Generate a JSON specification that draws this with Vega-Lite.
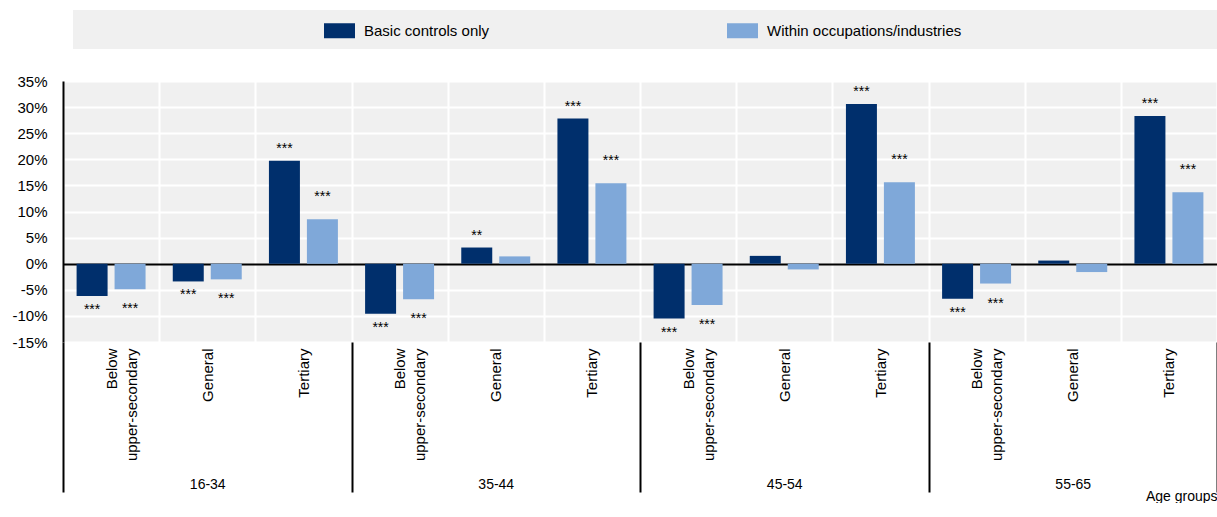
{
  "$schema": "https://vega.github.io/schema/vega-lite/v6.json",
  "padding": {"left": 0, "top": 10, "right": 0, "bottom": 0},
  "spacing": 25,
  "config": {
    "font": "Liberation Sans, Arial, sans-serif",
    "view": {"stroke": null, "fill": "#f0f0f0"},
    "axis": {"labelColor": "#000000", "titleColor": "#000000"}
  },
  "vconcat": [
    {
      "width": 1154,
      "height": 39,
      "view": {"fill": null, "stroke": null},
      "data": {"values": [{"band": "legend"}]},
      "mark": {"type": "rect", "color": "#f0f0f0"},
      "encoding": {
        "x": {
          "field": "band",
          "type": "nominal",
          "scale": {"paddingInner": 0, "paddingOuter": 0.00437, "align": 1},
          "axis": null
        },
        "y": {
          "field": "band",
          "type": "nominal",
          "scale": {"paddingInner": 0, "paddingOuter": 0},
          "axis": {"title": null, "labels": false, "ticks": false, "domain": false, "grid": false, "minExtent": 63, "maxExtent": 63}
        }
      }
    },
    {
      "width": 1154,
      "height": 261,
      "data": {
        "values": [
          {"age": "16-34", "edu": "Below upper-secondary", "cat": "16-34|Below upper-secondary", "series": "Basic controls only", "value": -0.062, "sig": "***"},
          {"age": "16-34", "edu": "Below upper-secondary", "cat": "16-34|Below upper-secondary", "series": "Within occupations/industries", "value": -0.049, "sig": "***"},
          {"age": "16-34", "edu": "General", "cat": "16-34|General", "series": "Basic controls only", "value": -0.034, "sig": "***"},
          {"age": "16-34", "edu": "General", "cat": "16-34|General", "series": "Within occupations/industries", "value": -0.030, "sig": "***"},
          {"age": "16-34", "edu": "Tertiary", "cat": "16-34|Tertiary", "series": "Basic controls only", "value": 0.197, "sig": "***"},
          {"age": "16-34", "edu": "Tertiary", "cat": "16-34|Tertiary", "series": "Within occupations/industries", "value": 0.085, "sig": "***"},
          {"age": "35-44", "edu": "Below upper-secondary", "cat": "35-44|Below upper-secondary", "series": "Basic controls only", "value": -0.096, "sig": "***"},
          {"age": "35-44", "edu": "Below upper-secondary", "cat": "35-44|Below upper-secondary", "series": "Within occupations/industries", "value": -0.068, "sig": "***"},
          {"age": "35-44", "edu": "General", "cat": "35-44|General", "series": "Basic controls only", "value": 0.031, "sig": "**"},
          {"age": "35-44", "edu": "General", "cat": "35-44|General", "series": "Within occupations/industries", "value": 0.014, "sig": ""},
          {"age": "35-44", "edu": "Tertiary", "cat": "35-44|Tertiary", "series": "Basic controls only", "value": 0.278, "sig": "***"},
          {"age": "35-44", "edu": "Tertiary", "cat": "35-44|Tertiary", "series": "Within occupations/industries", "value": 0.154, "sig": "***"},
          {"age": "45-54", "edu": "Below upper-secondary", "cat": "45-54|Below upper-secondary", "series": "Basic controls only", "value": -0.105, "sig": "***"},
          {"age": "45-54", "edu": "Below upper-secondary", "cat": "45-54|Below upper-secondary", "series": "Within occupations/industries", "value": -0.079, "sig": "***"},
          {"age": "45-54", "edu": "General", "cat": "45-54|General", "series": "Basic controls only", "value": 0.015, "sig": ""},
          {"age": "45-54", "edu": "General", "cat": "45-54|General", "series": "Within occupations/industries", "value": -0.011, "sig": ""},
          {"age": "45-54", "edu": "Tertiary", "cat": "45-54|Tertiary", "series": "Basic controls only", "value": 0.306, "sig": "***"},
          {"age": "45-54", "edu": "Tertiary", "cat": "45-54|Tertiary", "series": "Within occupations/industries", "value": 0.156, "sig": "***"},
          {"age": "55-65", "edu": "Below upper-secondary", "cat": "55-65|Below upper-secondary", "series": "Basic controls only", "value": -0.067, "sig": "***"},
          {"age": "55-65", "edu": "Below upper-secondary", "cat": "55-65|Below upper-secondary", "series": "Within occupations/industries", "value": -0.038, "sig": "***"},
          {"age": "55-65", "edu": "General", "cat": "55-65|General", "series": "Basic controls only", "value": 0.006, "sig": ""},
          {"age": "55-65", "edu": "General", "cat": "55-65|General", "series": "Within occupations/industries", "value": -0.016, "sig": ""},
          {"age": "55-65", "edu": "Tertiary", "cat": "55-65|Tertiary", "series": "Basic controls only", "value": 0.283, "sig": "***"},
          {"age": "55-65", "edu": "Tertiary", "cat": "55-65|Tertiary", "series": "Within occupations/industries", "value": 0.137, "sig": "***"}
        ]
      },
      "layer": [
        {
          "encoding": {
            "x": {
              "field": "cat",
              "type": "nominal",
              "scale": {
                "domain": ["16-34|Below upper-secondary", "16-34|General", "16-34|Tertiary", "35-44|Below upper-secondary", "35-44|General", "35-44|Tertiary", "45-54|Below upper-secondary", "45-54|General", "45-54|Tertiary", "55-65|Below upper-secondary", "55-65|General", "55-65|Tertiary"],
                "paddingInner": 0,
                "paddingOuter": 0
              },
              "axis": {
                "orient": "bottom",
                "title": null,
                "labelAngle": -90,
                "labelExpr": "split(datum.value, '|')[1] == 'Below upper-secondary' ? ['Below', 'upper-secondary'] : split(datum.value, '|')[1]",
                "labelFontSize": 15,
                "labelPadding": 6,
                "labelLineHeight": 20,
                "labelOverlap": false,
                "labelBound": false,
                "ticks": false,
                "domain": false,
                "grid": true,
                "gridColor": "#ffffff",
                "gridWidth": 2,
                "tickBand": "extent"
              }
            },
            "xOffset": {
              "field": "series",
              "type": "nominal",
              "scale": {"domain": ["Basic controls only", "Within occupations/industries"], "paddingInner": 0.184, "paddingOuter": 0.358}
            },
            "y": {
              "field": "value",
              "type": "quantitative",
              "scale": {"domain": [-0.15, 0.35], "nice": false, "zero": true},
              "axis": {
                "title": null,
                "values": [-0.15, -0.1, -0.05, 0, 0.05, 0.1, 0.15, 0.2, 0.25, 0.3, 0.35],
                "labelExpr": "round(datum.value * 100) + '%'",
                "labelFontSize": 15,
                "labelPadding": 16,
                "labelFlush": false,
                "labelOverlap": false,
                "ticks": false,
                "domain": true,
                "domainColor": "#000000",
                "domainWidth": 2,
                "grid": true,
                "gridColor": {"condition": {"test": "datum.value === 0", "value": "#000000"}, "value": "#ffffff"},
                "gridWidth": 2,
                "minExtent": 63,
                "maxExtent": 63
              }
            }
          },
          "layer": [
            {
              "mark": {"type": "bar"},
              "encoding": {
                "color": {
                  "field": "series",
                  "type": "nominal",
                  "scale": {"domain": ["Basic controls only", "Within occupations/industries"], "range": ["#002f6c", "#7fa8d9"]},
                  "legend": {
                    "orient": "none",
                    "legendX": 261,
                    "legendY": 5,
                    "direction": "horizontal",
                    "title": null,
                    "symbolType": "M-1,-0.484H1V0.484H-1Z",
                    "symbolSize": 961,
                    "symbolStrokeWidth": 0,
                    "symbolOpacity": 1,
                    "labelFontSize": 15,
                    "labelOffset": 9,
                    "labelLimit": 400,
                    "labelColor": "#000000",
                    "columnPadding": 237,
                    "padding": 0
                  }
                }
              }
            },
            {
              "transform": [{"filter": "datum.value >= 0 && datum.series == 'Basic controls only'"}],
              "mark": {"type": "text", "fontSize": 14, "color": "#000000", "baseline": "middle", "dy": -12},
              "encoding": {"text": {"field": "sig", "type": "nominal"}}
            },
            {
              "transform": [{"filter": "datum.value >= 0 && datum.series != 'Basic controls only'"}],
              "mark": {"type": "text", "fontSize": 14, "color": "#000000", "baseline": "middle", "dy": -22},
              "encoding": {"text": {"field": "sig", "type": "nominal"}}
            },
            {
              "transform": [{"filter": "datum.value < 0 && datum.series == 'Basic controls only'"}],
              "mark": {"type": "text", "fontSize": 14, "color": "#000000", "baseline": "middle", "dy": 14},
              "encoding": {"text": {"field": "sig", "type": "nominal"}}
            },
            {
              "transform": [{"filter": "datum.value < 0 && datum.series != 'Basic controls only'"}],
              "mark": {"type": "text", "fontSize": 14, "color": "#000000", "baseline": "middle", "dy": 20},
              "encoding": {"text": {"field": "sig", "type": "nominal"}}
            }
          ]
        },
        {
          "mark": {"type": "point", "opacity": 0},
          "encoding": {
            "x": {
              "field": "age",
              "type": "nominal",
              "scale": {"domain": ["16-34", "35-44", "45-54", "55-65"], "paddingInner": 0, "paddingOuter": 0},
              "axis": {
                "orient": "bottom",
                "title": "Age groups",
                "titleAnchor": "end",
                "titleAlign": "right",
                "titleFontSize": 14,
                "titleFontWeight": "normal",
                "titlePadding": -4,
                "labelAngle": 0,
                "labelFontSize": 14,
                "labelPadding": -15,
                "labelBaseline": "top",
                "domain": false,
                "grid": false,
                "ticks": true,
                "tickBand": "extent",
                "tickSize": 150,
                "tickColor": "#000000",
                "tickWidth": 2
              }
            }
          }
        }
      ],
      "resolve": {"scale": {"x": "independent"}, "axis": {"x": "independent"}}
    }
  ]
}
